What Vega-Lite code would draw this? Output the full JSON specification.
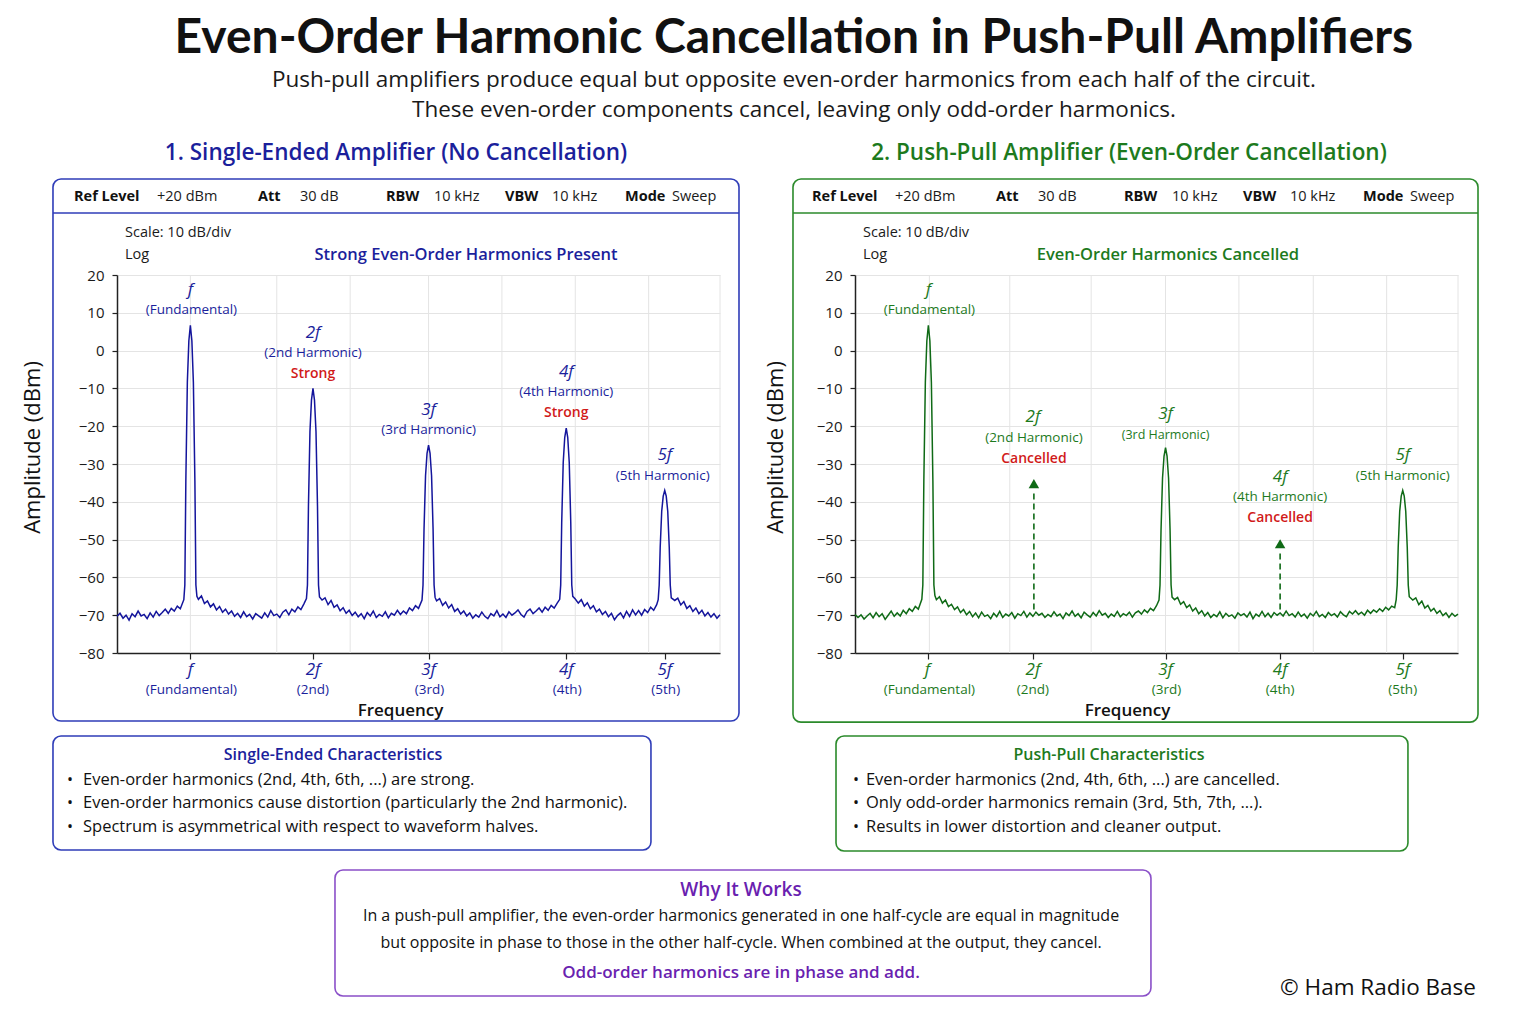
{
"$schema":"https://vega.github.io/schema/vega-lite/v6.json",
"background":"white",
"padding":{"left":21,"top":15,"right":10,"bottom":10},
"title":{"text":"Even-Order Harmonic Cancellation in Push-Pull Amplifiers","subtitle":["Push-pull amplifiers produce equal but opposite even-order harmonics from each half of the circuit.","These even-order components cancel, leaving only odd-order harmonics."],"anchor":"middle","frame":"bounds","dx":44,"font":"Lato","fontSize":48,"fontWeight":"bold","color":"#111111","subtitleFont":"Open Sans","subtitleFontSize":22.5,"subtitleColor":"#1a1a1a","subtitleLineHeight":30,"subtitlePadding":6,"offset":20},
"datasets":{
"left":[{"x":0,"y":-70.3},{"x":3,"y":-69.5},{"x":6,"y":-70.8},{"x":9,"y":-70.0},{"x":12,"y":-71.3},{"x":15,"y":-69.6},{"x":18,"y":-70.4},{"x":21,"y":-68.9},{"x":24,"y":-70.2},{"x":27,"y":-69.8},{"x":30,"y":-70.9},{"x":33,"y":-69.4},{"x":36,"y":-70.5},{"x":39,"y":-69.0},{"x":42,"y":-70.1},{"x":45,"y":-69.3},{"x":48,"y":-68.4},{"x":51,"y":-69.5},{"x":54,"y":-68.2},{"x":57,"y":-68.9},{"x":60,"y":-67.6},{"x":63,"y":-68.3},{"x":66.5,"y":-65.9},{"x":67.5,"y":-62},{"x":68.5,"y":-34.5},{"x":70,"y":-8.4},{"x":71.5,"y":2.6},{"x":73,"y":6.7},{"x":74.5,"y":2.6},{"x":76,"y":-8.4},{"x":77.5,"y":-34.5},{"x":78.5,"y":-62},{"x":79.5,"y":-65.0},{"x":81,"y":-65.8},{"x":84,"y":-64.9},{"x":87,"y":-66.9},{"x":90,"y":-66.2},{"x":93,"y":-67.8},{"x":96,"y":-67.0},{"x":99,"y":-68.6},{"x":102,"y":-67.7},{"x":105,"y":-69.2},{"x":108,"y":-68.4},{"x":111,"y":-69.7},{"x":114,"y":-68.9},{"x":117,"y":-70.3},{"x":120,"y":-69.5},{"x":123,"y":-70.6},{"x":126,"y":-69.1},{"x":129,"y":-70.4},{"x":132,"y":-69.8},{"x":135,"y":-71.0},{"x":138,"y":-69.6},{"x":141,"y":-70.2},{"x":144,"y":-70.8},{"x":147,"y":-69.4},{"x":150,"y":-70.5},{"x":153,"y":-68.8},{"x":156,"y":-70.1},{"x":159,"y":-69.7},{"x":162,"y":-70.6},{"x":165,"y":-69.2},{"x":168,"y":-68.6},{"x":171,"y":-69.9},{"x":174,"y":-68.4},{"x":177,"y":-69.1},{"x":180,"y":-67.8},{"x":183,"y":-68.5},{"x":186,"y":-67.0},{"x":188.5,"y":-65.6},{"x":189.5,"y":-62},{"x":190.5,"y":-41.2},{"x":192,"y":-21.4},{"x":193.5,"y":-13.1},{"x":195,"y":-10},{"x":196.5,"y":-13.1},{"x":198,"y":-21.4},{"x":199.5,"y":-41.2},{"x":200.5,"y":-62},{"x":201.5,"y":-65.2},{"x":204,"y":-66.0},{"x":207,"y":-65.4},{"x":210,"y":-67.2},{"x":213,"y":-66.1},{"x":216,"y":-67.9},{"x":219,"y":-67.3},{"x":222,"y":-68.8},{"x":225,"y":-68.0},{"x":228,"y":-69.5},{"x":231,"y":-68.7},{"x":234,"y":-70.1},{"x":237,"y":-69.2},{"x":240,"y":-70.4},{"x":243,"y":-69.6},{"x":246,"y":-70.9},{"x":249,"y":-69.3},{"x":252,"y":-70.2},{"x":255,"y":-68.9},{"x":258,"y":-70.6},{"x":261,"y":-69.8},{"x":264,"y":-70.3},{"x":267,"y":-69.1},{"x":270,"y":-70.7},{"x":273,"y":-69.5},{"x":276,"y":-70.0},{"x":279,"y":-68.7},{"x":282,"y":-69.8},{"x":285,"y":-68.9},{"x":288,"y":-69.6},{"x":291,"y":-68.1},{"x":294,"y":-68.8},{"x":297,"y":-67.5},{"x":300,"y":-68.2},{"x":303.5,"y":-66.0},{"x":304.5,"y":-62},{"x":305.5,"y":-47.2},{"x":307,"y":-33.1},{"x":308.5,"y":-27.2},{"x":310,"y":-25},{"x":311.5,"y":-27.2},{"x":313,"y":-33.1},{"x":314.5,"y":-47.2},{"x":315.5,"y":-62},{"x":316.5,"y":-65.3},{"x":318,"y":-66.2},{"x":321,"y":-65.6},{"x":324,"y":-67.4},{"x":327,"y":-66.5},{"x":330,"y":-68.1},{"x":333,"y":-67.2},{"x":336,"y":-69.0},{"x":339,"y":-68.3},{"x":342,"y":-69.7},{"x":345,"y":-68.9},{"x":348,"y":-70.2},{"x":351,"y":-69.4},{"x":354,"y":-70.8},{"x":357,"y":-69.9},{"x":360,"y":-70.5},{"x":363,"y":-69.2},{"x":366,"y":-70.3},{"x":369,"y":-70.9},{"x":372,"y":-69.6},{"x":375,"y":-70.2},{"x":378,"y":-68.8},{"x":381,"y":-70.4},{"x":384,"y":-69.7},{"x":387,"y":-70.6},{"x":390,"y":-69.1},{"x":393,"y":-70.0},{"x":396,"y":-69.4},{"x":399,"y":-68.6},{"x":402,"y":-69.8},{"x":405,"y":-70.5},{"x":408,"y":-69.0},{"x":411,"y":-68.4},{"x":414,"y":-69.6},{"x":417,"y":-68.9},{"x":420,"y":-68.1},{"x":423,"y":-69.2},{"x":426,"y":-67.9},{"x":429,"y":-68.7},{"x":432,"y":-67.4},{"x":435,"y":-68.1},{"x":438,"y":-66.8},{"x":440.5,"y":-65.8},{"x":441.5,"y":-62},{"x":442.5,"y":-45.4},{"x":444,"y":-29.6},{"x":445.5,"y":-23},{"x":447,"y":-20.5},{"x":448.5,"y":-23},{"x":450,"y":-29.6},{"x":451.5,"y":-45.4},{"x":452.5,"y":-62},{"x":453.5,"y":-65.0},{"x":456,"y":-65.7},{"x":459,"y":-66.8},{"x":462,"y":-65.9},{"x":465,"y":-67.6},{"x":468,"y":-66.7},{"x":471,"y":-68.3},{"x":474,"y":-67.5},{"x":477,"y":-69.1},{"x":480,"y":-68.4},{"x":483,"y":-69.8},{"x":486,"y":-69.0},{"x":489,"y":-70.4},{"x":492,"y":-69.5},{"x":495,"y":-71.2},{"x":498,"y":-70.1},{"x":501,"y":-69.4},{"x":504,"y":-70.7},{"x":507,"y":-69.0},{"x":510,"y":-70.3},{"x":513,"y":-68.6},{"x":516,"y":-69.9},{"x":519,"y":-68.8},{"x":522,"y":-70.0},{"x":525,"y":-68.5},{"x":528,"y":-69.3},{"x":531,"y":-67.9},{"x":534,"y":-68.7},{"x":537,"y":-67.2},{"x":538.5,"y":-65.9},{"x":539.5,"y":-62},{"x":540.5,"y":-52},{"x":542,"y":-42.5},{"x":543.5,"y":-38.5},{"x":545,"y":-37},{"x":546.5,"y":-38.5},{"x":548,"y":-42.5},{"x":549.5,"y":-52},{"x":550.5,"y":-62},{"x":551.5,"y":-65.4},{"x":555,"y":-66.1},{"x":558,"y":-65.5},{"x":561,"y":-67.3},{"x":564,"y":-66.4},{"x":567,"y":-68.2},{"x":570,"y":-67.5},{"x":573,"y":-69.0},{"x":576,"y":-68.1},{"x":579,"y":-69.6},{"x":582,"y":-68.7},{"x":585,"y":-70.2},{"x":588,"y":-69.3},{"x":591,"y":-70.5},{"x":594,"y":-69.6},{"x":597,"y":-70.8},{"x":600,"y":-69.9}],
"right":[{"x":0,"y":-69.8},{"x":3,"y":-70.6},{"x":6,"y":-69.9},{"x":9,"y":-71.0},{"x":12,"y":-70.2},{"x":15,"y":-69.5},{"x":18,"y":-70.7},{"x":21,"y":-69.3},{"x":24,"y":-70.4},{"x":27,"y":-69.6},{"x":30,"y":-71.1},{"x":33,"y":-70.0},{"x":36,"y":-68.9},{"x":39,"y":-70.3},{"x":42,"y":-69.4},{"x":45,"y":-70.2},{"x":48,"y":-68.7},{"x":51,"y":-69.6},{"x":54,"y":-68.3},{"x":57,"y":-69.0},{"x":60,"y":-67.7},{"x":63,"y":-68.4},{"x":66.5,"y":-65.8},{"x":67.5,"y":-62},{"x":68.5,"y":-34.5},{"x":70,"y":-8.4},{"x":71.5,"y":2.6},{"x":73,"y":6.7},{"x":74.5,"y":2.6},{"x":76,"y":-8.4},{"x":77.5,"y":-34.5},{"x":78.5,"y":-62},{"x":79.5,"y":-64.8},{"x":81,"y":-65.9},{"x":84,"y":-65.1},{"x":87,"y":-66.8},{"x":90,"y":-66.0},{"x":93,"y":-67.7},{"x":96,"y":-67.1},{"x":99,"y":-68.5},{"x":102,"y":-67.8},{"x":105,"y":-69.3},{"x":108,"y":-68.5},{"x":111,"y":-69.9},{"x":114,"y":-69.0},{"x":117,"y":-70.4},{"x":120,"y":-69.4},{"x":123,"y":-70.7},{"x":126,"y":-69.2},{"x":129,"y":-70.3},{"x":132,"y":-69.9},{"x":135,"y":-70.9},{"x":138,"y":-69.5},{"x":141,"y":-70.4},{"x":144,"y":-69.0},{"x":147,"y":-70.6},{"x":150,"y":-69.7},{"x":153,"y":-70.2},{"x":156,"y":-69.3},{"x":159,"y":-70.8},{"x":162,"y":-69.6},{"x":165,"y":-70.1},{"x":168,"y":-69.0},{"x":171,"y":-70.5},{"x":174,"y":-69.4},{"x":177,"y":-70.3},{"x":180,"y":-69.2},{"x":183,"y":-70.0},{"x":186,"y":-69.5},{"x":189,"y":-70.6},{"x":192,"y":-69.8},{"x":195,"y":-70.4},{"x":198,"y":-69.1},{"x":201,"y":-70.2},{"x":204,"y":-69.7},{"x":207,"y":-70.9},{"x":210,"y":-69.4},{"x":213,"y":-70.1},{"x":216,"y":-68.9},{"x":219,"y":-70.3},{"x":222,"y":-69.6},{"x":225,"y":-70.7},{"x":228,"y":-69.2},{"x":231,"y":-69.9},{"x":234,"y":-70.5},{"x":237,"y":-69.3},{"x":240,"y":-70.2},{"x":243,"y":-68.8},{"x":246,"y":-70.0},{"x":249,"y":-69.5},{"x":252,"y":-70.6},{"x":255,"y":-69.7},{"x":258,"y":-70.3},{"x":261,"y":-69.0},{"x":264,"y":-70.4},{"x":267,"y":-69.6},{"x":270,"y":-70.1},{"x":273,"y":-69.2},{"x":276,"y":-70.5},{"x":279,"y":-69.4},{"x":282,"y":-68.9},{"x":285,"y":-69.7},{"x":288,"y":-68.6},{"x":291,"y":-69.3},{"x":294,"y":-68.2},{"x":297,"y":-68.8},{"x":300,"y":-67.5},{"x":302.5,"y":-66.0},{"x":303.5,"y":-62},{"x":304.5,"y":-47.5},{"x":306,"y":-33.7},{"x":307.5,"y":-27.9},{"x":309,"y":-25.7},{"x":310.5,"y":-27.9},{"x":312,"y":-33.7},{"x":313.5,"y":-47.5},{"x":314.5,"y":-62},{"x":315.5,"y":-65.2},{"x":318,"y":-65.9},{"x":321,"y":-65.3},{"x":324,"y":-67.1},{"x":327,"y":-66.4},{"x":330,"y":-68.0},{"x":333,"y":-67.3},{"x":336,"y":-68.9},{"x":339,"y":-68.1},{"x":342,"y":-69.6},{"x":345,"y":-68.8},{"x":348,"y":-70.2},{"x":351,"y":-69.3},{"x":354,"y":-70.6},{"x":357,"y":-69.8},{"x":360,"y":-70.4},{"x":363,"y":-69.1},{"x":366,"y":-70.7},{"x":369,"y":-69.5},{"x":372,"y":-70.3},{"x":375,"y":-69.9},{"x":378,"y":-70.8},{"x":381,"y":-69.4},{"x":384,"y":-70.1},{"x":387,"y":-69.6},{"x":390,"y":-70.5},{"x":393,"y":-69.2},{"x":396,"y":-70.9},{"x":399,"y":-69.7},{"x":402,"y":-70.3},{"x":405,"y":-69.0},{"x":408,"y":-70.4},{"x":411,"y":-69.5},{"x":414,"y":-70.6},{"x":417,"y":-69.3},{"x":420,"y":-70.0},{"x":423,"y":-69.4},{"x":426,"y":-70.2},{"x":429,"y":-68.9},{"x":432,"y":-70.1},{"x":435,"y":-69.6},{"x":438,"y":-70.5},{"x":441,"y":-69.2},{"x":444,"y":-70.3},{"x":447,"y":-69.7},{"x":450,"y":-70.8},{"x":453,"y":-69.5},{"x":456,"y":-70.2},{"x":459,"y":-69.0},{"x":462,"y":-70.4},{"x":465,"y":-69.8},{"x":468,"y":-70.6},{"x":471,"y":-69.3},{"x":474,"y":-70.1},{"x":477,"y":-69.6},{"x":480,"y":-70.5},{"x":483,"y":-69.1},{"x":486,"y":-69.9},{"x":489,"y":-70.4},{"x":492,"y":-69.0},{"x":495,"y":-69.7},{"x":498,"y":-68.8},{"x":501,"y":-69.8},{"x":504,"y":-69.2},{"x":507,"y":-70.0},{"x":510,"y":-68.7},{"x":513,"y":-69.5},{"x":516,"y":-68.6},{"x":519,"y":-69.2},{"x":522,"y":-68.3},{"x":525,"y":-69.0},{"x":528,"y":-67.9},{"x":531,"y":-68.6},{"x":534,"y":-67.6},{"x":537,"y":-68.0},{"x":538.5,"y":-65.9},{"x":539.5,"y":-62},{"x":540.5,"y":-52},{"x":542,"y":-42.5},{"x":543.5,"y":-38.5},{"x":545,"y":-37},{"x":546.5,"y":-38.5},{"x":548,"y":-42.5},{"x":549.5,"y":-52},{"x":550.5,"y":-62},{"x":551.5,"y":-65.1},{"x":555,"y":-66.0},{"x":558,"y":-65.4},{"x":561,"y":-67.2},{"x":564,"y":-66.3},{"x":567,"y":-68.1},{"x":570,"y":-67.4},{"x":573,"y":-68.9},{"x":576,"y":-68.2},{"x":579,"y":-69.5},{"x":582,"y":-68.8},{"x":585,"y":-70.1},{"x":588,"y":-69.4},{"x":591,"y":-70.6},{"x":594,"y":-69.5},{"x":597,"y":-70.3},{"x":600,"y":-69.7}]
},
"bounds":"flush",
"spacing":135,
"hconcat":[
{"width":603,"height":378,
"encoding":{
"x":{"field":"x","type":"quantitative","scale":{"domain":[0,600],"nice":false,"zero":false},"axis":{"title":"Frequency","values":[73,195,310,447,545],"labels":false,"grid":false,"tickSize":6,"tickWidth":1.2,"domainWidth":1.5,"titleFontSize":17,"titleFontWeight":600,"titleX":283,"titleY":57,"titleAlign":"center","titleBaseline":"middle"}},
"y":{"field":"y","type":"quantitative","scale":{"domain":[-80,20],"nice":false,"zero":false},"axis":{"title":"Amplitude (dBm)","values":[-80,-70,-60,-50,-40,-30,-20,-10,0,10,20],"grid":true,"tickSize":5,"tickWidth":1.2,"domainWidth":1.5,"labelFontSize":15,"labelPadding":8,"labelOverlap":false,"titleFontSize":22,"titleFontWeight":500,"titleX":-85,"titleY":172,"titleAlign":"center","titleBaseline":"middle","titleAngle":-90}}},
"layer":[
{"data":{"values":[{"x":-63.7,"x2":618.9,"y":45.4,"y2":-98}]},
"mark":{"type":"rect","fillOpacity":0,"stroke":"#2f3db8","strokeWidth":1.6,"cornerRadius":8},
"encoding":{"x2":{"field":"x2"},"y2":{"field":"y2"}}},
{"data":{"values":[{"x":-63.7,"x2":618.9,"y":36.4}]},
"mark":{"type":"rule","stroke":"#2f3db8","strokeWidth":1.4},
"encoding":{"x2":{"field":"x2"}}},
{"data":{"values":[{"x":73,"y":-80,"y2":20},{"x":159,"y":-80,"y2":20},{"x":232,"y":-80,"y2":20},{"x":310,"y":-80,"y2":20},{"x":383,"y":-80,"y2":20},{"x":456,"y":-80,"y2":20},{"x":529,"y":-80,"y2":20},{"x":600,"y":-80,"y2":20}]},
"mark":{"type":"rule","stroke":"#e4e4e4","strokeWidth":1},
"encoding":{"y2":{"field":"y2"}}},
{"data":{"name":"left"},
"mark":{"type":"line","stroke":"#14159c","strokeWidth":1.5},
"encoding":{}},
{"data":{"values":[{"t":"Ref Level","x":-42.8,"y":40.6},{"t":"Att","x":140.3,"y":40.6},{"t":"RBW","x":267.7,"y":40.6},{"t":"VBW","x":386.1,"y":40.6},{"t":"Mode","x":505.5,"y":40.6}]},
"mark":{"type":"text","fontSize":14.5,"fontWeight":"bold","align":"left","color":"#111111"},
"encoding":{"text":{"field":"t"}}},
{"data":{"values":[{"t":"+20 dBm","x":39.8,"y":40.6},{"t":"30 dB","x":182.1,"y":40.6},{"t":"10 kHz","x":315.4,"y":40.6},{"t":"10 kHz","x":432.8,"y":40.6},{"t":"Sweep","x":552.2,"y":40.6},{"t":"Scale:  10 dB/div","x":8,"y":31.1},{"t":"Log","x":8,"y":25.3}]},
"mark":{"type":"text","fontSize":14.5,"align":"left","color":"#1a1a1a"},
"encoding":{"text":{"field":"t"}}},
{"data":{"values":[{"t":"Strong Even-Order Harmonics Present","x":347.3,"y":25.3}]},
"mark":{"type":"text","fontSize":16.5,"fontWeight":600,"align":"center","color":"#1b1f9c"},
"encoding":{"text":{"field":"t"}}},
{"data":{"values":[{"t":"1.  Single-Ended Amplifier (No Cancellation)","x":277.6,"y":52.3}]},
"mark":{"type":"text","fontSize":22.5,"fontWeight":600,"align":"center","color":"#1b1f9c"},
"encoding":{"text":{"field":"t"}}},
{"data":{"values":[{"t":"f","x":73,"y":16},{"t":"2f","x":195,"y":4.7},{"t":"3f","x":310,"y":-15.7},{"t":"4f","x":447,"y":-5.7},{"t":"5f","x":545,"y":-27.6},{"t":"f","x":73,"y":-84.5},{"t":"2f","x":195,"y":-84.5},{"t":"3f","x":310,"y":-84.5},{"t":"4f","x":447,"y":-84.5},{"t":"5f","x":545,"y":-84.5}]},
"mark":{"type":"text","fontSize":17,"fontStyle":"italic","align":"center","color":"#1b1f9c"},
"encoding":{"text":{"field":"t"}}},
{"data":{"values":[{"t":"(Fundamental)","x":74,"y":10.7},{"t":"(2nd Harmonic)","x":195,"y":-0.6},{"t":"(3rd Harmonic)","x":310,"y":-21},{"t":"(4th Harmonic)","x":447,"y":-11},{"t":"(5th Harmonic)","x":543,"y":-33.2},{"t":"(Fundamental)","x":74,"y":-89.8},{"t":"(2nd)","x":195,"y":-89.8},{"t":"(3rd)","x":311,"y":-89.8},{"t":"(4th)","x":448,"y":-89.8},{"t":"(5th)","x":546,"y":-89.8}]},
"mark":{"type":"text","fontSize":13.5,"align":"center","color":"#1b1f9c"},
"encoding":{"text":{"field":"t"}}},
{"data":{"values":[{"t":"Strong","x":195,"y":-6.2},{"t":"Strong","x":447,"y":-16.5}]},
"mark":{"type":"text","fontSize":14,"fontWeight":600,"align":"center","color":"#d11a1a"},
"encoding":{"text":{"field":"t"}}},
{"data":{"values":[{"x":-63.7,"x2":531.3,"y":-101.96,"y2":-132.12}]},
"mark":{"type":"rect","fillOpacity":0,"stroke":"#2f3db8","strokeWidth":1.6,"cornerRadius":8},
"encoding":{"x2":{"field":"x2"},"y2":{"field":"y2"}}},
{"data":{"values":[{"x":216.9,"x2":1028.8,"y":-137.41,"y2":-170.74}]},
"mark":{"type":"rect","fillOpacity":0,"stroke":"#8a4fc8","strokeWidth":1.6,"cornerRadius":8},
"encoding":{"x2":{"field":"x2"},"y2":{"field":"y2"}}},
{"data":{"values":[{"t":"Single-Ended Characteristics","x":214.9,"y":-106.98}]},
"mark":{"type":"text","fontSize":16,"fontWeight":600,"align":"center","color":"#1b1f9c"},
"encoding":{"text":{"field":"t"}}},
{"data":{"values":[{"t":"•","x":-46.8,"y":-113.6},{"t":"•","x":-46.8,"y":-119.68},{"t":"•","x":-46.8,"y":-126.03}]},
"mark":{"type":"text","fontSize":16,"align":"center","color":"#111111"},
"encoding":{"text":{"field":"t"}}},
{"data":{"values":[{"t":"Even-order harmonics (2nd, 4th, 6th, ...) are strong.","x":-33.8,"y":-113.6},{"t":"Even-order harmonics cause distortion (particularly the 2nd harmonic).","x":-33.8,"y":-119.68},{"t":"Spectrum is asymmetrical with respect to waveform halves.","x":-33.8,"y":-126.03}]},
"mark":{"type":"text","fontSize":16.5,"align":"left","color":"#111111"},
"encoding":{"text":{"field":"t"}}},
{"data":{"values":[{"t":"Why It Works","x":620.9,"y":-142.7}]},
"mark":{"type":"text","fontSize":19,"fontWeight":600,"align":"center","color":"#6a1fb0"},
"encoding":{"text":{"field":"t"}}},
{"data":{"values":[{"t":"In a push-pull amplifier, the even-order harmonics generated in one half-cycle are equal in magnitude","x":620.9,"y":-149.58},{"t":"but opposite in phase to those in the other half-cycle. When combined at the output, they cancel.","x":620.9,"y":-156.72}]},
"mark":{"type":"text","fontSize":16,"align":"center","color":"#111111"},
"encoding":{"text":{"field":"t"}}},
{"data":{"values":[{"t":"Odd-order harmonics are in phase and add.","x":620.9,"y":-164.66}]},
"mark":{"type":"text","fontSize":17,"fontWeight":600,"align":"center","color":"#6a1fb0"},
"encoding":{"text":{"field":"t"}}}
]},
{"width":603,"height":378,
"encoding":{
"x":{"field":"x","type":"quantitative","scale":{"domain":[0,600],"nice":false,"zero":false},"axis":{"title":"Frequency","values":[73,177,309,423,545],"labels":false,"grid":false,"tickSize":6,"tickWidth":1.2,"domainWidth":1.5,"titleFontSize":17,"titleFontWeight":600,"titleX":272,"titleY":57,"titleAlign":"center","titleBaseline":"middle"}},
"y":{"field":"y","type":"quantitative","scale":{"domain":[-80,20],"nice":false,"zero":false},"axis":{"title":"Amplitude (dBm)","values":[-80,-70,-60,-50,-40,-30,-20,-10,0,10,20],"grid":true,"tickSize":5,"tickWidth":1.2,"domainWidth":1.5,"labelFontSize":15,"labelPadding":8,"labelOverlap":false,"titleFontSize":22,"titleFontWeight":500,"titleX":-80,"titleY":172,"titleAlign":"center","titleBaseline":"middle","titleAngle":-90}}},
"layer":[
{"data":{"values":[{"x":-61.7,"x2":619.9,"y":45.4,"y2":-98.3}]},
"mark":{"type":"rect","fillOpacity":0,"stroke":"#2b8a2b","strokeWidth":1.6,"cornerRadius":8},
"encoding":{"x2":{"field":"x2"},"y2":{"field":"y2"}}},
{"data":{"values":[{"x":-61.7,"x2":619.9,"y":36.4}]},
"mark":{"type":"rule","stroke":"#2b8a2b","strokeWidth":1.4},
"encoding":{"x2":{"field":"x2"}}},
{"data":{"values":[{"x":74,"y":-80,"y2":20},{"x":154,"y":-80,"y2":20},{"x":235,"y":-80,"y2":20},{"x":309,"y":-80,"y2":20},{"x":382,"y":-80,"y2":20},{"x":456,"y":-80,"y2":20},{"x":529,"y":-80,"y2":20},{"x":600,"y":-80,"y2":20}]},
"mark":{"type":"rule","stroke":"#e4e4e4","strokeWidth":1},
"encoding":{"y2":{"field":"y2"}}},
{"data":{"name":"right"},
"mark":{"type":"line","stroke":"#0f6a16","strokeWidth":1.5},
"encoding":{}},
{"data":{"values":[{"x":178,"y":-68.5,"y2":-37}, {"x":423,"y":-68.5,"y2":-53}]},
"mark":{"type":"rule","stroke":"#0f6a16","strokeWidth":1.6,"strokeDash":[6,4]},
"encoding":{"y2":{"field":"y2"}}},
{"data":{"values":[{"x":178,"y":-35.2},{"x":423,"y":-51.1}]},
"mark":{"type":"point","shape":"triangle-up","filled":true,"size":110,"color":"#0f6a16","opacity":1},
"encoding":{}},
{"data":{"values":[{"t":"Ref Level","x":-42.8,"y":40.6},{"t":"Att","x":140.3,"y":40.6},{"t":"RBW","x":267.7,"y":40.6},{"t":"VBW","x":386.1,"y":40.6},{"t":"Mode","x":505.5,"y":40.6}]},
"mark":{"type":"text","fontSize":14.5,"fontWeight":"bold","align":"left","color":"#111111"},
"encoding":{"text":{"field":"t"}}},
{"data":{"values":[{"t":"+20 dBm","x":39.8,"y":40.6},{"t":"30 dB","x":182.1,"y":40.6},{"t":"10 kHz","x":315.4,"y":40.6},{"t":"10 kHz","x":432.8,"y":40.6},{"t":"Sweep","x":552.2,"y":40.6},{"t":"Scale:  10 dB/div","x":8,"y":31.1},{"t":"Log","x":8,"y":25.3}]},
"mark":{"type":"text","fontSize":14.5,"align":"left","color":"#1a1a1a"},
"encoding":{"text":{"field":"t"}}},
{"data":{"values":[{"t":"Even-Order Harmonics Cancelled","x":311.4,"y":25.3}]},
"mark":{"type":"text","fontSize":16.5,"fontWeight":600,"align":"center","color":"#1d7a1d"},
"encoding":{"text":{"field":"t"}}},
{"data":{"values":[{"t":"2.  Push-Pull Amplifier (Even-Order Cancellation)","x":272.6,"y":52.3}]},
"mark":{"type":"text","fontSize":22.5,"fontWeight":600,"align":"center","color":"#1d7a1d"},
"encoding":{"text":{"field":"t"}}},
{"data":{"values":[{"t":"f","x":73,"y":16},{"t":"2f","x":177,"y":-17.6},{"t":"3f","x":309,"y":-16.8},{"t":"4f","x":423,"y":-33.4},{"t":"5f","x":545,"y":-27.6},{"t":"f","x":72,"y":-84.5},{"t":"2f","x":177,"y":-84.5},{"t":"3f","x":309,"y":-84.5},{"t":"4f","x":423,"y":-84.5},{"t":"5f","x":545,"y":-84.5}]},
"mark":{"type":"text","fontSize":17,"fontStyle":"italic","align":"center","color":"#1d7a1d"},
"encoding":{"text":{"field":"t"}}},
{"data":{"values":[{"t":"(Fundamental)","x":74,"y":10.7},{"t":"(2nd Harmonic)","x":178,"y":-23.1},{"t":"(4th Harmonic)","x":423,"y":-38.7},{"t":"(5th Harmonic)","x":545,"y":-33.2},{"t":"(Fundamental)","x":74,"y":-89.8},{"t":"(2nd)","x":177,"y":-89.8},{"t":"(3rd)","x":310,"y":-89.8},{"t":"(4th)","x":423,"y":-89.8},{"t":"(5th)","x":545,"y":-89.8}]},
"mark":{"type":"text","fontSize":13.5,"align":"center","color":"#1d7a1d"},
"encoding":{"text":{"field":"t"}}},
{"data":{"values":[{"t":"(3rd Harmonic)","x":309,"y":-22.3}]},
"mark":{"type":"text","fontSize":12.5,"align":"center","color":"#1d7a1d"},
"encoding":{"text":{"field":"t"}}},
{"data":{"values":[{"t":"Cancelled","x":178,"y":-28.7},{"t":"Cancelled","x":423,"y":-44.3}]},
"mark":{"type":"text","fontSize":14,"fontWeight":600,"align":"center","color":"#d11a1a"},
"encoding":{"text":{"field":"t"}}},
{"data":{"values":[{"x":-18.9,"x2":550.2,"y":-101.96,"y2":-132.38}]},
"mark":{"type":"rect","fillOpacity":0,"stroke":"#2b8a2b","strokeWidth":1.6,"cornerRadius":8},
"encoding":{"x2":{"field":"x2"},"y2":{"field":"y2"}}},
{"data":{"values":[{"t":"Push-Pull Characteristics","x":252.7,"y":-106.98}]},
"mark":{"type":"text","fontSize":16,"fontWeight":600,"align":"center","color":"#1d7a1d"},
"encoding":{"text":{"field":"t"}}},
{"data":{"values":[{"t":"•","x":1.0,"y":-113.6},{"t":"•","x":1.0,"y":-119.68},{"t":"•","x":1.0,"y":-126.03}]},
"mark":{"type":"text","fontSize":16,"align":"center","color":"#111111"},
"encoding":{"text":{"field":"t"}}},
{"data":{"values":[{"t":"Even-order harmonics (2nd, 4th, 6th, ...) are cancelled.","x":10.9,"y":-113.6},{"t":"Only odd-order harmonics remain (3rd, 5th, 7th, ...).","x":10.9,"y":-119.68},{"t":"Results in lower distortion and cleaner output.","x":10.9,"y":-126.03}]},
"mark":{"type":"text","fontSize":16.5,"align":"left","color":"#111111"},
"encoding":{"text":{"field":"t"}}},
{"data":{"values":[{"t":"© Ham Radio Base","x":617.9,"y":-168.62}]},
"mark":{"type":"text","fontSize":22.5,"align":"right","color":"#111111"},
"encoding":{"text":{"field":"t"}}}
]}
],
"config":{
"view":{"stroke":null},
"font":"Open Sans",
"axis":{"labelFont":"Open Sans","titleFont":"Open Sans","labelColor":"#1a1a1a","titleColor":"#111111","domainColor":"#222222","tickColor":"#222222","gridColor":"#e4e4e4"},
"text":{"font":"Open Sans","baseline":"middle"}
}
}
